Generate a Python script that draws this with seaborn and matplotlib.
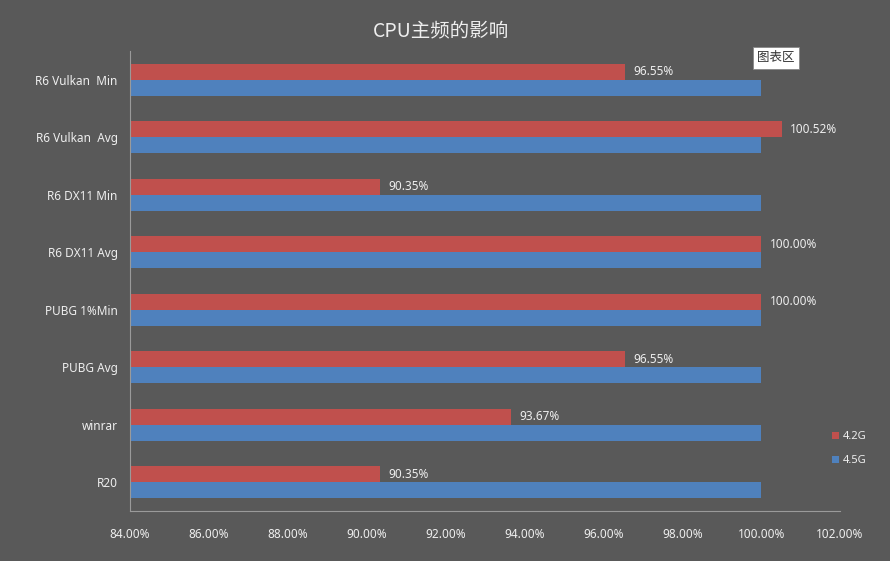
import numpy as np
import pandas as pd
import matplotlib
matplotlib.use('Agg')
import matplotlib.pyplot as plt
import seaborn as sns
from matplotlib.patches import Patch

## Dados
categorias = ['R6 Vulkan  Min', 'R6 Vulkan  Avg', 'R6 DX11 Min', 'R6 DX11 Avg',
              'PUBG 1%Min', 'PUBG Avg', 'winrar', 'R20']
valores_42 = [96.55, 100.52, 90.35, 100.00, 100.00, 96.55, 93.67, 90.35]
valores_45 = [100.00, 100.00, 100.00, 100.00, 100.00, 100.00, 100.00, 100.00]
series = ['4.2G', '4.5G']
x_ticks = [84, 86, 88, 90, 92, 94, 96, 98, 100, 102]

df = pd.DataFrame({
    'categoria': categorias * 2,
    'valor': valores_42 + valores_45,
    'serie': [series[0]] * len(categorias) + [series[1]] * len(categorias),
})

## Estilo
sns.set_style('dark')
plt.rcParams['font.family'] = ['Noto Sans', 'Noto Sans CJK SC', 'DejaVu Sans']

fundo = '#595959'
texto = '#eeeeee'
cores = {'4.2G': '#C0504D', '4.5G': '#4F81BD'}

fig = plt.figure(figsize=(8.9, 5.61), dpi=100, facecolor=fundo)
ax = fig.add_axes([130 / 890, 1 - 511 / 561, 710 / 890, 460 / 561])
ax.set_facecolor(fundo)

sns.barplot(data=df, y='categoria', x='valor', hue='serie', hue_order=series,
            palette=cores, orient='h', width=0.56, saturation=1, linewidth=0,
            ax=ax, legend=False)

ax.set_xlim(84, 102)
ax.set_xticks(x_ticks)
ax.set_xticklabels([f'{t:.2f}%' for t in x_ticks])
ax.set_xlabel('')
ax.set_ylabel('')
ax.grid(False)
ax.tick_params(axis='both', length=0, colors=texto, labelsize=8.5)
ax.tick_params(axis='x', pad=12)
ax.tick_params(axis='y', pad=9)

for lado in ['top', 'right']:
    ax.spines[lado].set_visible(False)
for lado in ['left', 'bottom']:
    ax.spines[lado].set_color('#9a9a9a')
    ax.spines[lado].set_linewidth(0.8)

# Rótulos nas barras vermelhas
ax.bar_label(ax.containers[0], fmt='%.2f%%', padding=6, color=texto, fontsize=8.5)

# Título
fig.text(0.495, 1 - 31 / 561, 'CPU主频的影响', ha='center', va='center',
         color=texto, fontsize=14, family=['Noto Sans CJK SC', 'DejaVu Sans'])

# Legenda
handles = [Patch(facecolor=cores[s], edgecolor='none') for s in series]
fig.legend(handles, series, loc='upper left', bbox_to_anchor=(822 / 890, 1 - 421 / 561),
           frameon=False, fontsize=8, labelcolor=texto, handlelength=0.6,
           handleheight=0.6, handletextpad=0.4, labelspacing=1.2)

# Caixa "图表区"
fig.text(776 / 890, 1 - 58 / 561, '图表区', ha='center', va='center', color='#333333',
         fontsize=9, family=['Noto Sans CJK SC', 'DejaVu Sans'],
         bbox=dict(boxstyle='square,pad=0.35', facecolor='white', edgecolor='#888888', linewidth=0.6))

plt.savefig('out.png', dpi=100, facecolor=fundo)
